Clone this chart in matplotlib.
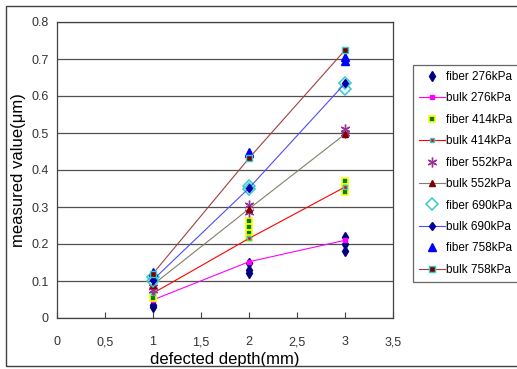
import matplotlib
matplotlib.use("Agg")
from matplotlib import pyplot as plt
from matplotlib.patches import Rectangle

plt.rcParams["font.family"] = ["Liberation Sans", "DejaVu Sans"]

depth = [1, 2, 3]

# fiber measurements (several readings per depth)
fiber276_x = [1, 1, 2, 2, 2, 3, 3, 3]
fiber276_y = [0.035, 0.03, 0.148, 0.13, 0.122, 0.22, 0.20, 0.18]
fiber414_x = [1, 1, 2, 2, 2, 2, 3, 3, 3]
fiber414_y = [0.06, 0.055, 0.262, 0.245, 0.23, 0.215, 0.37, 0.355, 0.34]
fiber552_x = [1, 1, 2, 2, 3, 3]
fiber552_y = [0.085, 0.075, 0.305, 0.287, 0.51, 0.50]
fiber690_x = [1, 1, 2, 2, 3, 3]
fiber690_y = [0.11, 0.1, 0.358, 0.35, 0.635, 0.62]
fiber758_x = [1, 2, 2, 3, 3]
fiber758_y = [0.125, 0.45, 0.445, 0.705, 0.695]

# bulk values
bulk276 = [0.049, 0.152, 0.21]
bulk414 = [0.067, 0.215, 0.354]
bulk552 = [0.09, 0.295, 0.497]
bulk690 = [0.103, 0.351, 0.634]
bulk758 = [0.12, 0.432, 0.724]

xticks = [0, 0.5, 1, 1.5, 2, 2.5, 3, 3.5]
xtick_labels = ["0", "0,5", "1", "1,5", "2", "2,5", "3", "3,5"]
yticks = [0, 0.1, 0.2, 0.3, 0.4, 0.5, 0.6, 0.7, 0.8]
ytick_labels = ["0", "0.1", "0.2", "0.3", "0.4", "0.5", "0.6", "0.7", "0.8"]

fig = plt.figure(figsize=(5.17, 3.69), dpi=100)
ax = fig.add_axes([57 / 517, 51 / 369, 336 / 517, 296 / 369])

# outer chart frame
fig.patches.append(Rectangle((6 / 517, 3 / 369), 1.1, 360 / 369, transform=fig.transFigure,
                             fill=False, edgecolor="#404040", linewidth=1.0))

ax.plot(fiber276_x, fiber276_y, linestyle="none", marker="d", color="#000080", ms=5,
        label="fiber 276kPa")
ax.plot(depth, bulk276, color="#FF00FF", lw=0.8, marker="s", ms=3.5, label="bulk 276kPa")
ax.plot(fiber414_x, fiber414_y, linestyle="none", marker="s", mfc="#008000", mec="#FFFF00",
        mew=1.2, ms=5, label="fiber 414kPa")
ax.plot(depth, bulk414, color="#FF0000", lw=0.8, marker="s", mfc="#FF0000", mec="#33CCCC",
        ms=3.5, label="bulk 414kPa")
ax.plot(fiber552_x, fiber552_y, linestyle="none", marker=(6, 2, 0), color="#993399", ms=7,
        mew=1.0, label="fiber 552kPa")
ax.plot(depth, bulk552, color="#80806A", lw=0.8, marker="^", mfc="#800000", mec="#800000",
        ms=4, label="bulk 552kPa")
ax.plot(fiber690_x, fiber690_y, linestyle="none", marker="D", mfc="none", mec="#33CCCC",
        mew=1.1, ms=6, label="fiber 690kPa")
ax.plot(depth, bulk690, color="#4D4DFF", lw=0.8, marker="d", mfc="#0000AA", mec="#0000AA",
        ms=4.5, label="bulk 690kPa")
ax.plot(fiber758_x, fiber758_y, linestyle="none", marker="^", color="#0000FF", ms=6,
        label="fiber 758kPa")
ax.plot(depth, bulk758, color="#A04040", lw=0.8, marker="s", mfc="#800000", mec="#33CCCC",
        ms=5, label="bulk 758kPa")

ax.set_xlim(0, 3.5)
ax.set_ylim(0, 0.8)
ax.set_xticks(xticks)
ax.set_xticklabels(xtick_labels)
ax.set_yticks(yticks)
ax.set_yticklabels(ytick_labels)
ax.tick_params(axis="x", direction="in", length=4, pad=13, labelsize=9, labelcolor="#333333",
               color="#404040")
ax.tick_params(axis="y", length=0, pad=6, labelsize=9, labelcolor="#333333")
ax.yaxis.grid(True, color="#505050", linewidth=0.9)
ax.set_axisbelow(True)
for s in ax.spines.values():
    s.set_color("#404040")
    s.set_linewidth(0.9)

ax.set_xlabel("defected depth(mm)", fontsize=12, labelpad=3)
ax.set_ylabel("measured value(μm)", fontsize=12, labelpad=4)

leg = ax.legend(loc="upper left", bbox_to_anchor=(413 / 517, 304 / 369),
                bbox_transform=fig.transFigure, fontsize=8.5, frameon=True, fancybox=False,
                edgecolor="#404040", labelspacing=0.8, handlelength=2.2, handletextpad=0.1,
                borderpad=0.5, borderaxespad=0)
leg.get_frame().set_linewidth(0.9)

fig.savefig("out.png", dpi=100)
